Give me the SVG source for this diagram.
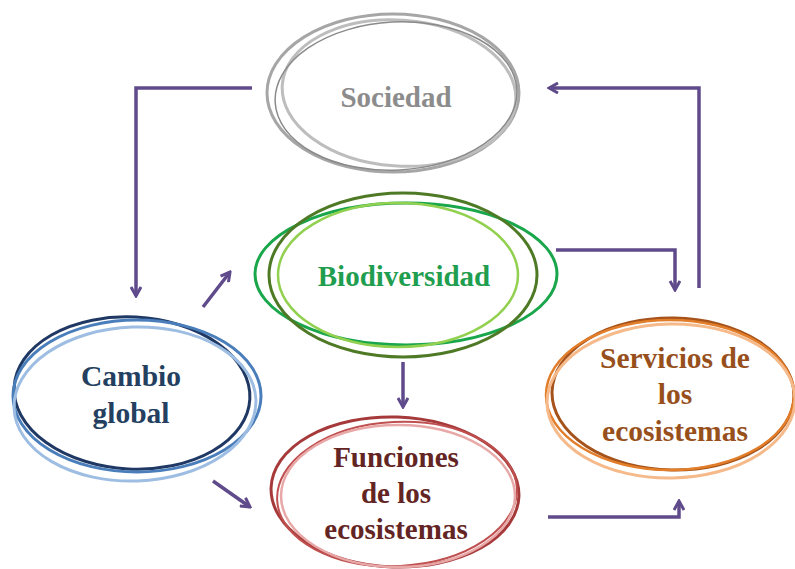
<svg xmlns="http://www.w3.org/2000/svg" width="795" height="569" viewBox="0 0 795 569">
<defs>
<style>
.lbl{font-family:"Liberation Serif","Times New Roman",serif;font-weight:bold;text-anchor:middle}
.ring{fill:none}
.conn{fill:none;stroke:#5f4b8b;stroke-width:3.5;stroke-linejoin:miter}
</style>
<marker id="ah" viewBox="0 0 12 12" refX="10" refY="6" markerWidth="12" markerHeight="12" markerUnits="userSpaceOnUse" orient="auto">
<path d="M1,1 L10,6 L1,11" fill="none" stroke="#5f4b8b" stroke-width="3"/>
</marker>
</defs>
<rect width="795" height="569" fill="#ffffff"/>

<g id="sociedad">
<ellipse class="ring" cx="393" cy="93" rx="126" ry="79" stroke="#a6a6a6" stroke-width="3"/>
<ellipse class="ring" cx="399" cy="93" rx="117" ry="73" transform="rotate(4 399 93)" stroke="#bdbdbd" stroke-width="3"/>
<ellipse class="ring" cx="396" cy="96" rx="121" ry="74" transform="rotate(-3 396 96)" stroke="#8a8a8a" stroke-width="1.5"/>
<text class="lbl" x="396" y="107" font-size="29" fill="#8c8c8c">Sociedad</text>
</g>

<g id="biodiversidad">
<ellipse class="ring" cx="406" cy="274" rx="151" ry="71" stroke="#1aa64b" stroke-width="3"/>
<ellipse class="ring" cx="403" cy="275" rx="134" ry="82" stroke="#4e7a26" stroke-width="3"/>
<ellipse class="ring" cx="398" cy="275" rx="120" ry="72" stroke="#92d050" stroke-width="2.5"/>
<text class="lbl" x="404" y="286" font-size="29" fill="#1f9e4f">Biodiversidad</text>
</g>

<g id="cambio">
<ellipse class="ring" cx="132" cy="393" rx="118" ry="76" transform="rotate(3 132 393)" stroke="#1f3864" stroke-width="3"/>
<ellipse class="ring" cx="137" cy="396" rx="124" ry="76" stroke="#4a7ebb" stroke-width="3"/>
<ellipse class="ring" cx="135" cy="404" rx="121" ry="77" transform="rotate(-2 135 404)" stroke="#9dbde2" stroke-width="3"/>
<text class="lbl" font-size="29.5" fill="#243f60"><tspan x="131" y="386">Cambio</tspan><tspan x="131" y="423">global</tspan></text>
</g>

<g id="servicios">
<ellipse class="ring" cx="673" cy="394" rx="121" ry="76" transform="rotate(1 673 394)" stroke="#a5531a" stroke-width="3"/>
<ellipse class="ring" cx="670" cy="395" rx="124" ry="75" stroke="#e27d2a" stroke-width="2.5"/>
<ellipse class="ring" cx="671" cy="401" rx="124" ry="77" transform="rotate(-1 671 401)" stroke="#f5b98a" stroke-width="3"/>
<text class="lbl" font-size="29.5" fill="#97501c"><tspan x="675" y="368">Servicios de</tspan><tspan x="675" y="404">los</tspan><tspan x="675" y="441">ecosistemas</tspan></text>
</g>

<g id="funciones">
<ellipse class="ring" cx="395" cy="492" rx="124" ry="75" transform="rotate(2 395 492)" stroke="#a63a3a" stroke-width="3"/>
<ellipse class="ring" cx="397" cy="494" rx="120" ry="72" transform="rotate(-3 397 494)" stroke="#c05050" stroke-width="2"/>
<ellipse class="ring" cx="398" cy="496" rx="117" ry="71" stroke="#e8a8a8" stroke-width="2.5"/>
<text class="lbl" font-size="29" fill="#632523"><tspan x="396" y="467">Funciones</tspan><tspan x="396" y="503">de los</tspan><tspan x="396" y="539">ecosistemas</tspan></text>
</g>

<g id="connectors">
<path class="conn" d="M252,88 H136 V296" marker-end="url(#ah)"/>
<path class="conn" d="M203,307 L230,272" marker-end="url(#ah)"/>
<path class="conn" d="M699,288 V88 H549" marker-end="url(#ah)"/>
<path class="conn" d="M556,250 H675 V290" marker-end="url(#ah)"/>
<path class="conn" d="M403,362 V407" marker-end="url(#ah)"/>
<path class="conn" d="M213,481 L250,507" marker-end="url(#ah)"/>
<path class="conn" d="M548,517 H679 V501" marker-end="url(#ah)"/>
</g>
</svg>
